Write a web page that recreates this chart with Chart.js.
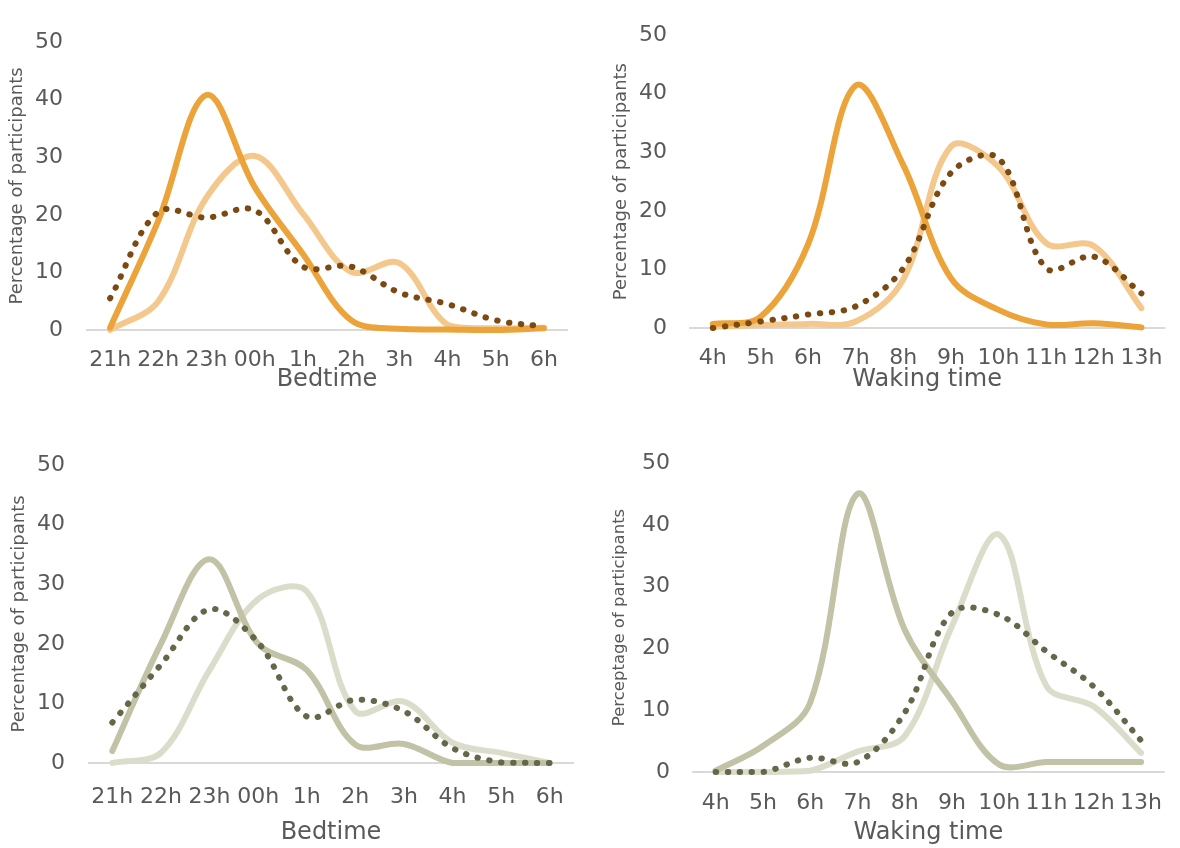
<!DOCTYPE html>
<html><head><meta charset="utf-8">
<script src="https://cdn.jsdelivr.net/npm/chart.js@4.4.0/dist/chart.umd.min.js"></script>
<style>
html,body{margin:0;padding:0;background:#fff;}
body{width:1180px;height:848px;position:relative;overflow:hidden;}
canvas{position:absolute;}
</style></head><body>
<canvas id="c1" width="590" height="424" style="left:0;top:0"></canvas>
<canvas id="c2" width="590" height="424" style="left:590px;top:0"></canvas>
<canvas id="c3" width="590" height="424" style="left:0;top:424px"></canvas>
<canvas id="c4" width="590" height="424" style="left:590px;top:424px"></canvas>
<script>
// ---- categories / tick labels ----
const bedtimeLabels = ['21h','22h','23h','00h','1h','2h','3h','4h','5h','6h'];
const wakingLabels  = ['4h','5h','6h','7h','8h','9h','10h','11h','12h','13h'];
const yTicks = [0, 10, 20, 30, 40, 50];

// ---- top-left: bedtime (orange) ----
const bedDarkA  = [0.4, 19, 40.8, 24.8, 13.2, 1.7, 0.2, 0.1, 0, 0.3];
const bedLightA = [0, 5, 23, 30.2, 20.2, 10.1, 11.6, 0.9, 0.3, 0.4];
const bedDotA   = [5.5, 20.5, 19.5, 20.8, 11, 11, 6.5, 4.5, 1.7, 0.6];

// ---- top-right: waking time (orange) ----
const wakeDarkA  = [0.7, 1.9, 14.3, 41.4, 27.8, 8.5, 3.1, 0.6, 0.8, 0.1];
const wakeLightA = [0.2, 0.5, 0.7, 1.1, 8.3, 31, 27.5, 14.5, 14, 3.4];
const wakeDotA   = [0, 1.1, 2.3, 3.7, 10.2, 26.5, 29, 10.2, 12.2, 5.9];

// ---- bottom-left: bedtime (sage) ----
const bedDarkB  = [2, 20, 34.2, 20, 15.6, 3.1, 3.2, 0, 0, 0];
const bedLightB = [0, 1.7, 15.6, 27.5, 28.8, 8.7, 10.3, 3.4, 1.7, 0];
const bedDotB   = [6.8, 16.5, 25.8, 20.2, 7.8, 10.6, 8.7, 2.5, 0.1, 0];

// ---- bottom-right: waking time (sage) ----
const wakeDarkB  = [0.2, 4.2, 11.2, 45, 23, 11.5, 1.2, 1.6, 1.6, 1.6];
const wakeLightB = [0, 0, 0.2, 3.3, 5.8, 23.6, 38.4, 13.9, 10.6, 3.1];
const wakeDotB   = [0, 0, 2.3, 1.6, 9.6, 25.8, 25.4, 19.5, 13.8, 5.1];

const orange = {dark:'#EBA33A', light:'#F4C88C', dot:'#7A4A12'};
const sage   = {dark:'#C2C2A6', light:'#DBDCCA', dot:'#65664A'};

const FONT = "'DejaVu Sans', sans-serif";
const GREY = '#595959';

function makeChart(id, labels, dark, light, dot, col, L) {
  const base = {fill:false, tension:0.35, pointRadius:0, pointHoverRadius:0, clip:false};
  new Chart(document.getElementById(id), {
    type:'line',
    data:{
      labels: labels,
      datasets:[
        Object.assign({}, base, {data:dot, borderColor:col.dot, borderWidth:6, borderDash:[0.5,11.5], borderCapStyle:'round', order:0}),
        Object.assign({}, base, {data:dark, borderColor:col.dark, borderWidth:6, borderCapStyle:'round', order:1}),
        Object.assign({}, base, {data:light, borderColor:col.light, borderWidth:6, borderCapStyle:'round', order:2})
      ]
    },
    options:{
      responsive:false, animation:false, events:[],
      layout:{padding:{left:0, top:L.top, right:L.right, bottom:0}},
      plugins:{legend:{display:false}, tooltip:{enabled:false}},
      scales:{
        x:{
          type:'category', offset:true,
          grid:{display:false, drawTicks:false}, border:{display:false},
          ticks:{color:GREY, font:{family:FONT, size:22}, padding:L.xTickPad, maxRotation:0, autoSkip:false},
          title:{display:true, text:L.xTitle, color:GREY, font:{family:FONT, size:24}, padding:{top:0, bottom:L.xTitlePad}},
          afterFit:(s)=>{ s.height = L.xHeight; }
        },
        y:{
          min:0, max:50,
          afterBuildTicks:(s)=>{ s.ticks = yTicks.map(v=>({value:v})); },
          grid:{drawTicks:false, lineWidth:2, color:(c)=> c.tick && c.tick.value===0 ? '#D9D9D9' : 'rgba(0,0,0,0)'},
          border:{display:false},
          ticks:{color:GREY, font:{family:FONT, size:22}, padding:L.yTickPad},
          title:{display:true, text:L.yTitle, color:GREY, font:{family:FONT, size:L.yTitleSize}, padding:{top:L.yTitlePad, bottom:0}},
          afterFit:(s)=>{ s.width = L.yWidth; }
        }
      }
    }
  });
}

makeChart('c1', bedtimeLabels, bedDarkA, bedLightA, bedDotA, orange,
  {top:42, right:22, xHeight:94, yWidth:86, yTickPad:23, yTitlePad:7, yTitleSize:18,
   xTickPad:17, xTitlePad:30, xTitle:'Bedtime', yTitle:'Percentage of participants'});
makeChart('c2', wakingLabels, wakeDarkA, wakeLightA, wakeDotA, orange,
  {top:21, right:12, xHeight:96, yWidth:99, yTickPad:22, yTitlePad:21, yTitleSize:18,
   xTickPad:17, xTitlePad:30, xTitle:'Waking time', yTitle:'Percentage of participants'});
makeChart('c3', bedtimeLabels, bedDarkB, bedLightB, bedDotB, sage,
  {top:41, right:16, xHeight:85, yWidth:88, yTickPad:23, yTitlePad:9, yTitleSize:18,
   xTickPad:21, xTitlePad:1, xTitle:'Bedtime', yTitle:'Percentage of participants'});
makeChart('c4', wakingLabels, wakeDarkB, wakeLightB, wakeDotB, sage,
  {top:39, right:0, xHeight:76, yWidth:102, yTickPad:22, yTitlePad:20, yTitleSize:16.5,
   xTickPad:18, xTitlePad:1, xTitle:'Waking time', yTitle:'Perceptage of participants'});
</script>
</body></html>
